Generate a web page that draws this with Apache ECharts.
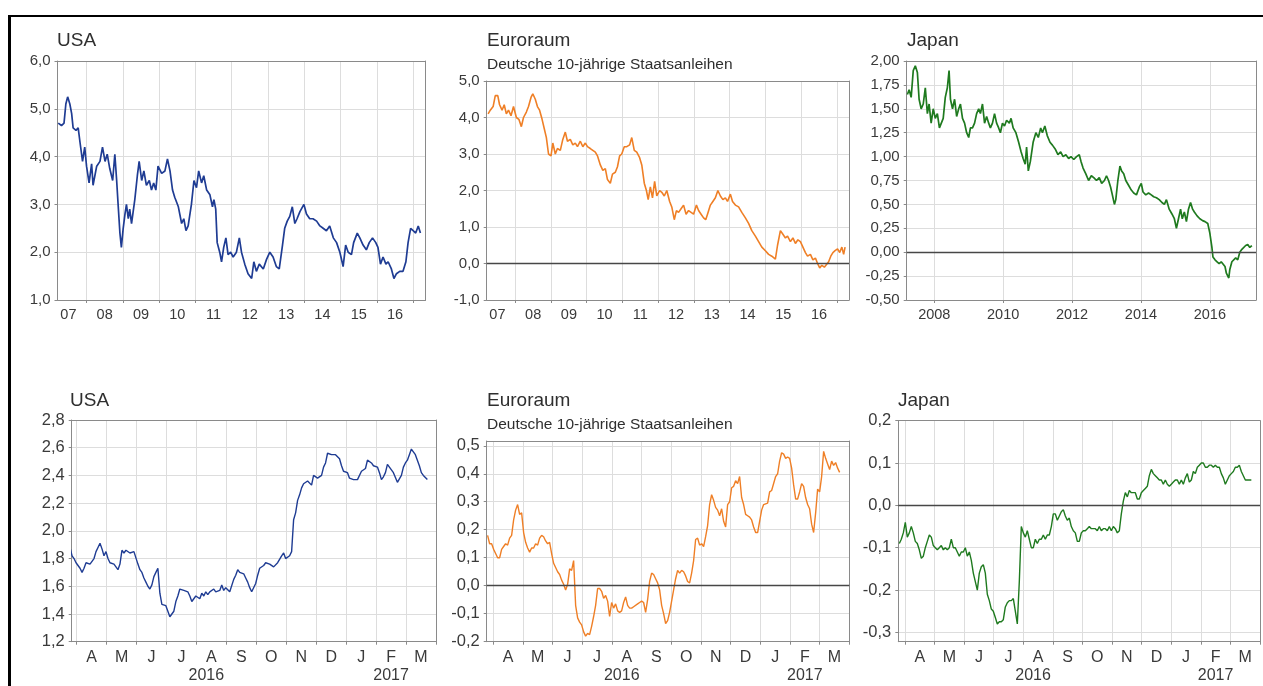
<!DOCTYPE html>
<html>
<head>
<meta charset="utf-8">
<script src="https://cdn.jsdelivr.net/npm/echarts@6/dist/echarts.min.js"></script>
<style>
  html, body { margin: 0; padding: 0; background: #ffffff; }
  #chart { width: 1263px; height: 686px; }
</style>
</head>
<body>
<div id="chart"></div>
<script>
// ---- Long-run yields (x = fractional year) ----
const usaLongYear = [2007.22,2007.31,2007.38,2007.43,2007.48,2007.54,2007.59,2007.63,2007.71,2007.77,
  2007.82,2007.89,2007.95,2008.00,2008.07,2008.14,2008.18,2008.28,2008.37,2008.44,
  2008.51,2008.57,2008.64,2008.72,2008.78,2008.83,2008.87,2008.92,2008.96,2009.01,
  2009.06,2009.10,2009.15,2009.19,2009.24,2009.33,2009.40,2009.45,2009.52,2009.58,
  2009.65,2009.73,2009.79,2009.85,2009.91,2009.97,2010.07,2010.16,2010.23,2010.30,
  2010.37,2010.43,2010.53,2010.62,2010.68,2010.74,2010.80,2010.89,2010.96,2011.03,
  2011.09,2011.17,2011.23,2011.31,2011.40,2011.47,2011.51,2011.56,2011.60,2011.67,
  2011.72,2011.78,2011.84,2011.90,2011.97,2012.04,2012.13,2012.21,2012.27,2012.36,
  2012.45,2012.55,2012.61,2012.68,2012.76,2012.87,2012.96,2013.05,2013.14,2013.23,
  2013.31,2013.40,2013.46,2013.53,2013.60,2013.67,2013.74,2013.80,2013.88,2013.99,
  2014.06,2014.15,2014.24,2014.34,2014.43,2014.52,2014.61,2014.70,2014.80,2014.89,
  2014.98,2015.07,2015.14,2015.21,2015.30,2015.36,2015.46,2015.53,2015.62,2015.71,
  2015.79,2015.88,2015.97,2016.03,2016.10,2016.17,2016.25,2016.31,2016.40,2016.47,
  2016.54,2016.63,2016.72,2016.80,2016.86,2016.93,2017.00,2017.07,2017.14,2017.20];
const usaLongVal = [4.70,4.65,4.70,5.10,5.25,5.10,4.90,4.60,4.55,4.60,
  4.30,3.90,4.20,3.80,3.45,3.85,3.40,3.80,3.90,4.20,
  3.90,4.05,3.75,3.50,4.05,3.50,3.00,2.40,2.10,2.50,
  2.80,3.00,2.70,2.90,2.60,3.10,3.60,3.90,3.50,3.70,
  3.40,3.50,3.30,3.45,3.30,3.80,3.65,3.70,3.95,3.70,
  3.30,3.15,2.95,2.60,2.70,2.45,2.55,3.00,3.50,3.35,
  3.70,3.45,3.60,3.30,3.20,2.95,3.10,2.90,2.20,2.00,
  1.80,2.10,2.30,1.95,2.00,1.90,2.00,2.30,2.00,1.75,
  1.55,1.45,1.80,1.60,1.75,1.65,1.85,2.00,1.90,1.70,
  1.65,2.15,2.50,2.65,2.75,2.95,2.60,2.70,2.85,3.00,
  2.80,2.70,2.70,2.65,2.55,2.50,2.45,2.55,2.30,2.20,
  2.00,1.70,2.15,2.00,1.95,2.20,2.40,2.30,2.15,2.05,
  2.20,2.30,2.20,2.10,1.75,1.90,1.75,1.80,1.65,1.45,
  1.55,1.60,1.60,1.80,2.20,2.50,2.45,2.40,2.55,2.40];

const euroLongYear = [2007.24,2007.30,2007.38,2007.44,2007.51,2007.56,2007.63,2007.69,2007.75,2007.81,
  2007.88,2007.95,2008.03,2008.10,2008.17,2008.23,2008.31,2008.37,2008.44,2008.49,
  2008.56,2008.62,2008.68,2008.75,2008.81,2008.87,2008.93,2009.00,2009.05,2009.12,
  2009.18,2009.26,2009.33,2009.40,2009.46,2009.54,2009.61,2009.68,2009.74,2009.82,
  2009.89,2009.96,2010.02,2010.10,2010.17,2010.24,2010.30,2010.38,2010.45,2010.52,
  2010.58,2010.66,2010.72,2010.80,2010.86,2010.92,2010.98,2011.05,2011.12,2011.20,
  2011.26,2011.33,2011.40,2011.48,2011.54,2011.61,2011.67,2011.72,2011.78,2011.84,
  2011.90,2011.96,2012.04,2012.10,2012.17,2012.24,2012.32,2012.38,2012.45,2012.51,
  2012.57,2012.64,2012.71,2012.78,2012.85,2012.92,2012.99,2013.07,2013.13,2013.20,
  2013.27,2013.33,2013.38,2013.46,2013.53,2013.60,2013.67,2013.74,2013.81,2013.88,
  2013.94,2014.02,2014.08,2014.16,2014.25,2014.34,2014.44,2014.53,2014.62,2014.72,
  2014.81,2014.90,2015.00,2015.09,2015.18,2015.28,2015.34,2015.42,2015.49,2015.56,
  2015.62,2015.70,2015.77,2015.84,2015.91,2015.98,2016.05,2016.12,2016.18,2016.26,
  2016.33,2016.40,2016.46,2016.52,2016.58,2016.65,2016.70,2016.77,2016.83,2016.89,
  2016.95,2017.02,2017.08,2017.14,2017.19,2017.23];
const euroLongVal = [4.10,4.20,4.30,4.60,4.60,4.35,4.20,4.35,4.10,4.20,
  4.05,4.30,4.00,3.95,3.75,4.00,4.15,4.30,4.55,4.65,
  4.50,4.30,4.20,3.95,3.70,3.45,3.00,2.95,3.30,3.00,
  3.15,3.10,3.40,3.60,3.35,3.40,3.25,3.30,3.20,3.35,
  3.20,3.30,3.20,3.15,3.10,3.05,2.95,2.70,2.55,2.60,
  2.30,2.20,2.45,2.50,2.65,2.95,3.00,3.20,3.20,3.25,
  3.45,3.10,3.05,2.90,2.70,2.20,2.00,1.75,2.10,1.80,
  2.25,1.85,2.00,1.95,1.85,2.00,1.70,1.55,1.20,1.45,
  1.40,1.50,1.60,1.35,1.45,1.40,1.35,1.60,1.45,1.35,
  1.25,1.20,1.35,1.60,1.70,1.80,2.00,1.85,1.75,1.80,
  1.70,1.90,1.70,1.60,1.55,1.40,1.25,1.10,0.90,0.75,
  0.60,0.45,0.35,0.25,0.20,0.12,0.50,0.90,0.80,0.70,
  0.75,0.60,0.70,0.55,0.65,0.60,0.45,0.30,0.20,0.25,
  0.10,0.15,0.00,-0.12,-0.05,-0.10,-0.08,0.05,0.20,0.30,
  0.35,0.40,0.30,0.45,0.25,0.45];

const japanLongYear = [2007.22,2007.27,2007.33,2007.39,2007.45,2007.51,2007.56,2007.62,2007.68,2007.74,
  2007.80,2007.85,2007.91,2007.97,2008.03,2008.09,2008.15,2008.20,2008.26,2008.32,
  2008.38,2008.43,2008.47,2008.53,2008.59,2008.65,2008.71,2008.76,2008.82,2008.88,
  2008.94,2009.00,2009.05,2009.11,2009.17,2009.23,2009.29,2009.34,2009.40,2009.46,
  2009.52,2009.58,2009.63,2009.69,2009.75,2009.81,2009.87,2009.92,2009.98,2010.04,
  2010.10,2010.18,2010.23,2010.29,2010.37,2010.45,2010.52,2010.58,2010.64,2010.68,
  2010.73,2010.79,2010.87,2010.95,2011.02,2011.09,2011.14,2011.21,2011.28,2011.36,
  2011.43,2011.51,2011.59,2011.67,2011.74,2011.82,2011.90,2011.97,2012.05,2012.13,
  2012.21,2012.26,2012.32,2012.40,2012.48,2012.56,2012.63,2012.71,2012.79,2012.86,
  2012.94,2013.00,2013.06,2013.12,2013.17,2013.23,2013.27,2013.33,2013.39,2013.44,
  2013.50,2013.56,2013.64,2013.72,2013.79,2013.87,2013.95,2014.01,2014.06,2014.14,
  2014.22,2014.30,2014.37,2014.45,2014.53,2014.61,2014.68,2014.74,2014.82,2014.90,
  2014.97,2015.03,2015.09,2015.15,2015.20,2015.26,2015.32,2015.38,2015.44,2015.50,
  2015.55,2015.63,2015.71,2015.79,2015.86,2015.94,2016.00,2016.06,2016.09,2016.15,
  2016.21,2016.27,2016.33,2016.38,2016.44,2016.48,2016.55,2016.58,2016.64,2016.69,
  2016.75,2016.81,2016.87,2016.93,2016.98,2017.04,2017.10,2017.16,2017.22];
const japanLongVal = [1.65,1.70,1.62,1.90,1.95,1.88,1.60,1.50,1.55,1.72,
  1.45,1.55,1.35,1.50,1.40,1.45,1.30,1.28,1.40,1.62,
  1.72,1.90,1.60,1.50,1.60,1.42,1.50,1.55,1.40,1.35,
  1.25,1.20,1.30,1.30,1.35,1.45,1.50,1.45,1.55,1.35,
  1.42,1.35,1.30,1.35,1.45,1.35,1.30,1.25,1.35,1.32,
  1.38,1.35,1.40,1.30,1.25,1.15,1.05,0.98,0.92,1.10,
  0.85,0.95,1.15,1.25,1.20,1.30,1.25,1.32,1.22,1.15,
  1.12,1.08,1.02,1.05,1.00,1.02,0.98,1.00,0.97,1.00,
  1.02,0.95,0.88,0.82,0.75,0.80,0.78,0.75,0.78,0.72,
  0.75,0.80,0.75,0.68,0.60,0.50,0.55,0.75,0.90,0.85,
  0.82,0.75,0.70,0.65,0.62,0.60,0.68,0.72,0.63,0.60,
  0.62,0.60,0.58,0.57,0.55,0.52,0.50,0.55,0.45,0.40,
  0.35,0.25,0.35,0.45,0.35,0.42,0.32,0.45,0.52,0.45,
  0.42,0.38,0.35,0.33,0.32,0.30,0.20,0.05,-0.05,-0.08,
  -0.10,-0.12,-0.10,-0.12,-0.15,-0.22,-0.27,-0.18,-0.10,-0.08,
  -0.06,-0.08,0.00,0.03,0.05,0.07,0.08,0.05,0.07];

// ---- Last twelve months (x = months since Jan 2016, sampled every ~2 days) ----
const usaShortStart = 2.778, usaShortEnd = 14.711;
const usaShortVal = [1.88,1.82,1.80,1.77,1.75,1.73,1.70,1.73,1.77,1.77,
  1.76,1.77,1.80,1.85,1.88,1.91,1.87,1.82,1.85,1.80,
  1.77,1.77,1.76,1.74,1.72,1.76,1.86,1.84,1.86,1.85,
  1.84,1.84,1.85,1.84,1.76,1.72,1.70,1.66,1.63,1.60,
  1.58,1.61,1.67,1.70,1.73,1.55,1.47,1.47,1.46,1.42,
  1.38,1.38,1.42,1.49,1.53,1.58,1.57,1.57,1.57,1.56,
  1.53,1.49,1.49,1.53,1.53,1.51,1.55,1.53,1.56,1.54,
  1.56,1.55,1.58,1.56,1.56,1.57,1.61,1.57,1.59,1.60,
  1.56,1.56,1.65,1.68,1.72,1.70,1.70,1.69,1.66,1.63,
  1.59,1.56,1.57,1.62,1.68,1.73,1.74,1.75,1.77,1.78,
  1.76,1.76,1.74,1.75,1.77,1.78,1.82,1.84,1.80,1.79,
  1.82,1.85,2.08,2.13,2.22,2.26,2.31,2.34,2.33,2.36,
  2.36,2.33,2.40,2.40,2.38,2.37,2.40,2.46,2.49,2.56,
  2.57,2.55,2.56,2.55,2.55,2.52,2.47,2.43,2.44,2.42,
  2.38,2.38,2.37,2.38,2.37,2.37,2.43,2.42,2.45,2.51,
  2.51,2.49,2.47,2.48,2.46,2.42,2.37,2.39,2.42,2.48,
  2.47,2.44,2.42,2.41,2.35,2.34,2.40,2.46,2.49,2.51,
  2.55,2.59,2.60,2.55,2.51,2.47,2.42,2.40,2.39,2.37];

const euroShortStart = 2.809, euroShortEnd = 14.674;
const euroShortVal = [0.18,0.15,0.15,0.13,0.115,0.10,0.10,0.13,0.14,0.15,
  0.145,0.17,0.18,0.235,0.27,0.29,0.255,0.26,0.19,0.155,
  0.135,0.12,0.135,0.135,0.15,0.145,0.17,0.18,0.175,0.16,
  0.15,0.155,0.115,0.08,0.065,0.05,0.04,0.02,0.005,-0.015,
  0.005,0.06,0.055,0.09,-0.07,-0.115,-0.13,-0.14,-0.165,-0.18,
  -0.17,-0.175,-0.145,-0.11,-0.07,-0.01,-0.01,-0.02,-0.045,-0.035,
  -0.055,-0.11,-0.06,-0.08,-0.065,-0.09,-0.095,-0.09,-0.06,-0.04,
  -0.07,-0.08,-0.08,-0.075,-0.07,-0.065,-0.06,-0.055,-0.06,-0.095,
  -0.05,0.015,0.045,0.04,0.025,0.01,-0.015,-0.07,-0.10,-0.135,
  -0.125,-0.095,-0.055,-0.015,0.025,0.055,0.045,0.055,0.05,0.035,
  0.015,0.01,0.045,0.09,0.165,0.17,0.145,0.15,0.14,0.175,
  0.215,0.29,0.325,0.305,0.28,0.27,0.25,0.275,0.23,0.21,
  0.29,0.30,0.35,0.355,0.375,0.365,0.39,0.315,0.29,0.255,
  0.25,0.245,0.235,0.21,0.19,0.19,0.23,0.27,0.29,0.285,
  0.295,0.335,0.34,0.365,0.39,0.40,0.445,0.475,0.47,0.455,
  0.46,0.455,0.42,0.36,0.31,0.31,0.335,0.365,0.355,0.315,
  0.29,0.275,0.22,0.19,0.26,0.345,0.335,0.39,0.48,0.455,
  0.435,0.415,0.445,0.43,0.44,0.42,0.405];

const japanShortStart = 2.808, japanShortEnd = 14.707;
const japanShortVal = [-0.09,-0.08,-0.065,-0.04,-0.075,-0.065,-0.05,-0.065,-0.085,-0.09,
  -0.105,-0.125,-0.12,-0.10,-0.085,-0.07,-0.075,-0.095,-0.10,-0.105,
  -0.10,-0.095,-0.105,-0.10,-0.105,-0.10,-0.08,-0.10,-0.10,-0.11,
  -0.12,-0.11,-0.11,-0.10,-0.12,-0.11,-0.13,-0.16,-0.18,-0.20,
  -0.16,-0.145,-0.14,-0.16,-0.21,-0.225,-0.245,-0.25,-0.265,-0.28,
  -0.275,-0.275,-0.27,-0.24,-0.23,-0.225,-0.225,-0.22,-0.25,-0.28,
  -0.18,-0.05,-0.065,-0.075,-0.06,-0.08,-0.10,-0.10,-0.08,-0.09,
  -0.08,-0.08,-0.07,-0.08,-0.07,-0.07,-0.05,-0.02,-0.02,-0.035,
  -0.025,-0.015,-0.01,-0.025,-0.035,-0.03,-0.05,-0.06,-0.065,-0.085,
  -0.085,-0.065,-0.06,-0.06,-0.055,-0.05,-0.055,-0.055,-0.055,-0.06,
  -0.05,-0.06,-0.055,-0.055,-0.06,-0.05,-0.06,-0.05,-0.055,-0.065,
  -0.06,-0.02,0.01,0.03,0.02,0.035,0.03,0.03,0.03,0.015,
  0.015,0.03,0.035,0.04,0.045,0.07,0.085,0.075,0.07,0.065,
  0.06,0.06,0.05,0.06,0.05,0.045,0.05,0.055,0.06,0.06,
  0.05,0.06,0.05,0.065,0.075,0.055,0.06,0.08,0.075,0.09,
  0.095,0.10,0.10,0.09,0.09,0.095,0.095,0.09,0.095,0.09,
  0.09,0.075,0.065,0.05,0.06,0.07,0.075,0.08,0.09,0.09,
  0.095,0.08,0.07,0.06,0.06,0.06,0.06];

// ---- Axis ticks and labels ----
const yearTicks = [2008,2009,2010,2011,2012,2013,2014,2015,2016,2017];
const yearLabelPos = [2007.5,2008.5,2009.5,2010.5,2011.5,2012.5,2013.5,2014.5,2015.5,2016.5];
const japanYearTicks = [2008,2010,2012,2014,2016];
const monthLetters = ['J','F','M','A','M','J','J','A','S','O','N','D'];
const monthTicks = [3,4,5,6,7,8,9,10,11,12,13,14,15];
const monthLabelPos = [3.5,4.5,5.5,6.5,7.5,8.5,9.5,10.5,11.5,12.5,13.5,14.5];
const yearRowPos = [7.33,13.5];
const yearRowText = ['2016','2017'];
const japanShortYTicks = [-0.3,-0.2,-0.1,0,0.1,0.2];

// ---- Styling ----
const FONT = '"Liberation Sans", Arial, Helvetica, sans-serif';
const TEXT = '#3a3a3a';
const BORDER = '#8a8a8a';
const GRIDLINE = '#dddddd';
const C_USA = '#1f3c93';
const C_EUR = '#ef7f26';
const C_JPN = '#1f7a1f';

const grids = [
  {left: 57.5, top: 61,    width: 368,   height: 239},
  {left: 486.7, top: 81,   width: 362.3, height: 219},
  {left: 906.7, top: 61,   width: 349.3, height: 239},
  {left: 71.7, top: 420,   width: 364.3, height: 221.7},
  {left: 486.7, top: 441,  width: 362.6, height: 200.7},
  {left: 898.3, top: 420.7, width: 361.7, height: 221}
];

const LONG_MIN = 2007.2, LONG_MAX = 2017.34;
const xRanges = [
  [LONG_MIN, LONG_MAX], [LONG_MIN, LONG_MAX], [LONG_MIN, LONG_MAX],
  [2.833, 15], [2.778, 15], [2.774, 15]
];

const comma = (v, d) => v.toFixed(d).replace('.', ',');

function pairs(xs, ys) { return xs.map((x, i) => [x, ys[i]]); }
function evenly(start, end, ys) {
  const step = (end - start) / (ys.length - 1);
  return ys.map((y, i) => [start + i * step, y]);
}

function mainX(gi, ticks, labels, fmt, fontSize, margin) {
  return {
    type: 'value', gridIndex: gi, position: 'bottom',
    min: xRanges[gi][0], max: xRanges[gi][1],
    axisLine: {show: true, onZero: false, lineStyle: {color: BORDER, width: 1}},
    axisTick: {show: true, inside: false, length: 3, customValues: ticks, lineStyle: {color: BORDER}},
    splitLine: {show: true, lineStyle: {color: GRIDLINE, width: 1}},
    axisLabel: {customValues: labels, formatter: fmt, color: TEXT, fontFamily: FONT,
                fontSize: fontSize, margin: margin, hideOverlap: false}
  };
}
function yearRowX(gi) {
  return {
    type: 'value', gridIndex: gi, position: 'bottom',
    min: xRanges[gi][0], max: xRanges[gi][1],
    axisLine: {show: false}, axisTick: {show: false}, splitLine: {show: false},
    axisLabel: {customValues: yearRowPos, formatter: v => yearRowText[v < 12 ? 0 : 1],
                color: TEXT, fontFamily: FONT, fontSize: 16, margin: 26}
  };
}
function frameX(gi) {
  return {
    type: 'value', gridIndex: gi, position: 'top',
    min: xRanges[gi][0], max: xRanges[gi][1],
    axisLine: {show: true, onZero: false, lineStyle: {color: BORDER, width: 1}},
    axisTick: {show: false}, axisLabel: {show: false}, splitLine: {show: false}
  };
}
function mainY(gi, cfg) {
  const ax = {
    type: 'value', gridIndex: gi, position: 'left',
    min: cfg.min, max: cfg.max,
    axisLine: {show: true, onZero: false, lineStyle: {color: BORDER, width: 1}},
    axisTick: {show: true, length: 3, lineStyle: {color: BORDER}},
    splitLine: {show: true, lineStyle: {color: GRIDLINE, width: 1}},
    axisLabel: {color: TEXT, fontFamily: FONT, fontSize: cfg.fs, margin: 7,
                formatter: v => comma(v, cfg.dec),
                showMaxLabel: cfg.showMax !== false}
  };
  if (cfg.interval) ax.interval = cfg.interval;
  if (cfg.ticks) {
    ax.axisTick.customValues = cfg.ticks;
    ax.axisLabel.customValues = cfg.ticks;
  }
  return ax;
}
function frameY(gi, min, max) {
  return {
    type: 'value', gridIndex: gi, position: 'right', min: min, max: max,
    axisLine: {show: true, onZero: false, lineStyle: {color: BORDER, width: 1}},
    axisTick: {show: false}, axisLabel: {show: false}, splitLine: {show: false}
  };
}

const yCfg = [
  {min: 1, max: 6, interval: 1, dec: 1, fs: 15},
  {min: -1, max: 5, interval: 1, dec: 1, fs: 15},
  {min: -0.5, max: 2, interval: 0.25, dec: 2, fs: 15},
  {min: 1.2, max: 2.8, interval: 0.2, dec: 1, fs: 16.5},
  {min: -0.2, max: 0.517, interval: 0.1, dec: 1, fs: 16.5, showMax: false},
  {min: -0.322, max: 0.2, ticks: japanShortYTicks, dec: 1, fs: 16.5}
];

const twoDigitYear = v => String(Math.floor(v)).slice(2);
const fullYear = v => String(Math.round(v));
const monthLetter = v => monthLetters[Math.floor(v) % 12];

const xAxes = [
  mainX(0, yearTicks, yearLabelPos, twoDigitYear, 14.5, 7),
  mainX(1, yearTicks, yearLabelPos, twoDigitYear, 14.5, 7),
  mainX(2, japanYearTicks, japanYearTicks, fullYear, 14.5, 7),
  mainX(3, monthTicks, monthLabelPos, monthLetter, 16, 8),
  mainX(4, monthTicks, monthLabelPos, monthLetter, 16, 8),
  mainX(5, monthTicks, monthLabelPos, monthLetter, 16, 8),
  yearRowX(3), yearRowX(4), yearRowX(5),
  frameX(0), frameX(1), frameX(2), frameX(3), frameX(4), frameX(5)
];
const yAxes = yCfg.map((c, i) => mainY(i, c))
  .concat(yCfg.map((c, i) => frameY(i, c.min, c.max)));

const zeroLine = {
  silent: true, symbol: 'none', animation: false,
  label: {show: false},
  lineStyle: {color: '#474747', width: 1.3, type: 'solid'},
  data: [{yAxis: 0}]
};

function lineSeries(gi, color, data, withZero, width) {
  const s = {
    type: 'line', xAxisIndex: gi, yAxisIndex: gi,
    data: data, showSymbol: false, symbol: 'none',
    lineStyle: {color: color, width: width}, itemStyle: {color: color},
    silent: true, z: 3
  };
  if (withZero) s.markLine = zeroLine;
  return s;
}

function title(text, left, top, size) {
  return {text: text, left: left, top: top, padding: 0,
          textStyle: {fontFamily: FONT, fontSize: size, fontWeight: 'normal', color: '#2f2f2f'}};
}

const option = {
  animation: false,
  backgroundColor: '#ffffff',
  graphic: [
    {type: 'line', shape: {x1: 8, y1: 16, x2: 1263, y2: 16}, style: {stroke: '#000000', lineWidth: 2}},
    {type: 'line', shape: {x1: 9.5, y1: 15, x2: 9.5, y2: 686}, style: {stroke: '#000000', lineWidth: 3}}
  ],
  title: [
    title('USA', 57, 31, 19),
    title('Euroraum', 487, 31, 19),
    title('Deutsche 10-jährige Staatsanleihen', 487, 57, 15.5),
    title('Japan', 907, 31, 19),
    title('USA', 70, 391, 19),
    title('Euroraum', 487, 391, 19),
    title('Deutsche 10-jährige Staatsanleihen', 487, 417, 15.5),
    title('Japan', 898, 391, 19)
  ],
  grid: grids.map(g => Object.assign({show: false, containLabel: false}, g)),
  xAxis: xAxes,
  yAxis: yAxes,
  series: [
    lineSeries(0, C_USA, pairs(usaLongYear, usaLongVal), false, 1.7),
    lineSeries(1, C_EUR, pairs(euroLongYear, euroLongVal), true, 1.6),
    lineSeries(2, C_JPN, pairs(japanLongYear, japanLongVal), true, 1.7),
    lineSeries(3, C_USA, evenly(usaShortStart, usaShortEnd, usaShortVal), false, 1.4),
    lineSeries(4, C_EUR, evenly(euroShortStart, euroShortEnd, euroShortVal), true, 1.4),
    lineSeries(5, C_JPN, evenly(japanShortStart, japanShortEnd, japanShortVal), true, 1.4)
  ]
};

const chart = echarts.init(document.getElementById('chart'), null, {renderer: 'canvas'});
chart.setOption(option);
</script>
</body>
</html>
